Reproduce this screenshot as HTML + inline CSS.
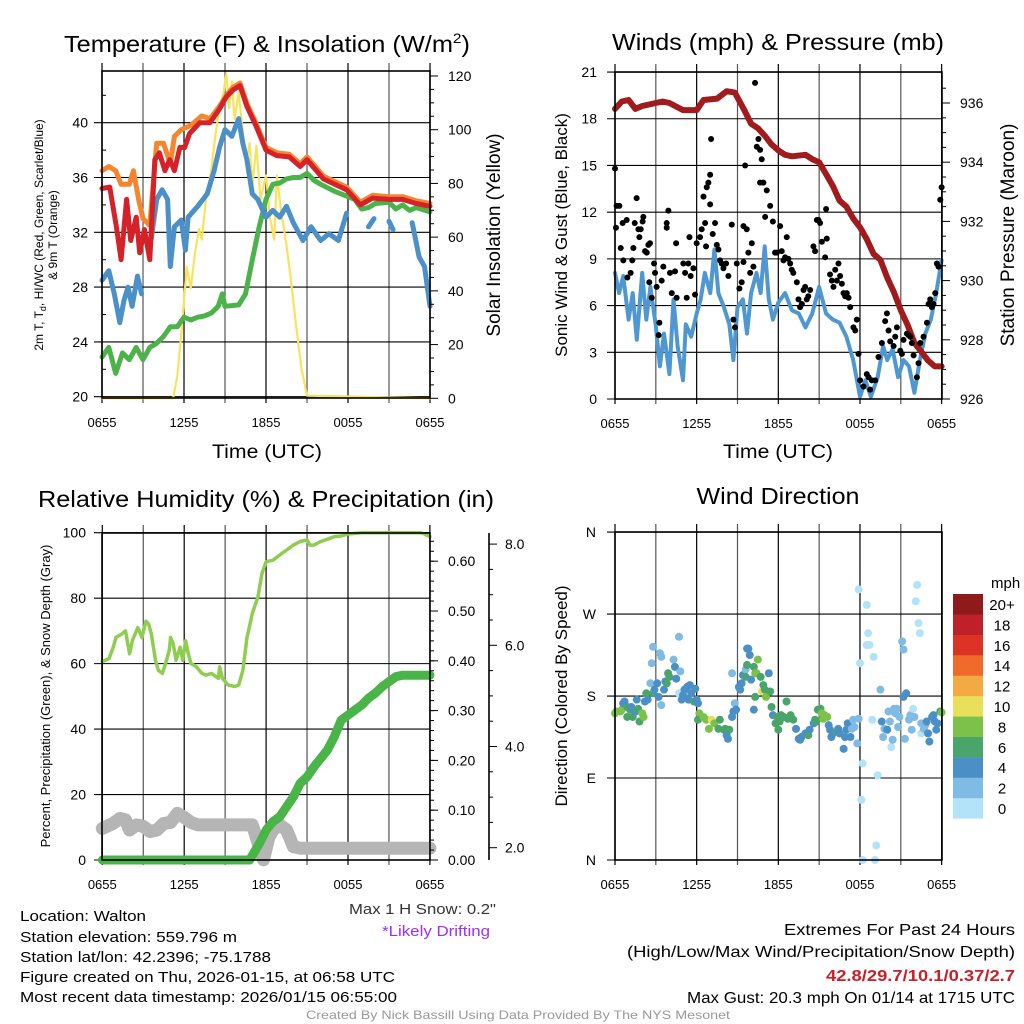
<!DOCTYPE html>
<html><head><meta charset="utf-8"><style>
html,body{margin:0;padding:0;background:#fff}
svg{display:block;font-family:"Liberation Sans",sans-serif}
</style></head><body>
<svg id="chart" width="1024" height="1024" viewBox="0 0 1024 1024" xmlns="http://www.w3.org/2000/svg">
<rect x="0" y="0" width="1024" height="1024" fill="#fff"/>
<g id="grids"></g>
<g id="series"></g>
<g id="axes"></g>
<g id="labels" font-size="14" fill="#000">
<text x="64" y="52" font-size="23" textLength="406" lengthAdjust="spacingAndGlyphs">Temperature (F) &amp; Insolation (W/m<tspan font-size="14" dy="-9">2</tspan><tspan dy="9">)</tspan></text>
<text x="778" y="50" font-size="23" text-anchor="middle" textLength="332" lengthAdjust="spacingAndGlyphs">Winds (mph) &amp; Pressure (mb)</text>
<text x="266" y="507" font-size="23" text-anchor="middle" textLength="456" lengthAdjust="spacingAndGlyphs">Relative Humidity (%) &amp; Precipitation (in)</text>
<text x="778" y="504" font-size="23" text-anchor="middle" textLength="163" lengthAdjust="spacingAndGlyphs">Wind Direction</text>
<text x="267" y="458" font-size="19" text-anchor="middle" textLength="110" lengthAdjust="spacingAndGlyphs">Time (UTC)</text>
<text x="778" y="458" font-size="19" text-anchor="middle" textLength="110" lengthAdjust="spacingAndGlyphs">Time (UTC)</text>
<text transform="translate(43,235) rotate(-90)" font-size="12" text-anchor="middle">2m T, T<tspan font-size="9" dy="3">d</tspan><tspan dy="-3">, HI/WC (Red, Green, Scarlet/Blue)</tspan></text>
<text transform="translate(57,235) rotate(-90)" font-size="12" text-anchor="middle">&amp; 9m T (Orange)</text>
<text transform="translate(500,235) rotate(-90)" font-size="19" text-anchor="middle">Solar Insolation (Yellow)</text>
<text transform="translate(567,235) rotate(-90)" font-size="17" text-anchor="middle">Sonic Wind &amp; Gust (Blue, Black)</text>
<text transform="translate(1014,235) rotate(-90)" font-size="19" text-anchor="middle">Station Pressure (Maroon)</text>
<text transform="translate(50,696) rotate(-90)" font-size="13" text-anchor="middle">Percent, Precipitation (Green), &amp; Snow Depth (Gray)</text>
<text transform="translate(567,696) rotate(-90)" font-size="17" text-anchor="middle">Direction (Colored By Speed)</text>
<text x="991" y="588" font-size="15">mph</text>
<text x="496" y="914" font-size="15" fill="#333" text-anchor="end" textLength="147" lengthAdjust="spacingAndGlyphs">Max 1 H Snow: 0.2"</text>
<text x="490" y="936" font-size="15" fill="#a02ff0" text-anchor="end" textLength="108" lengthAdjust="spacingAndGlyphs">*Likely Drifting</text>
<text x="20" y="921" font-size="15" textLength="126" lengthAdjust="spacingAndGlyphs">Location: Walton</text>
<text x="20" y="942" font-size="15" textLength="217" lengthAdjust="spacingAndGlyphs">Station elevation: 559.796 m</text>
<text x="20" y="962" font-size="15" textLength="251" lengthAdjust="spacingAndGlyphs">Station lat/lon: 42.2396; -75.1788</text>
<text x="20" y="982" font-size="15" textLength="375" lengthAdjust="spacingAndGlyphs">Figure created on Thu, 2026-01-15, at 06:58 UTC</text>
<text x="20" y="1002" font-size="15" textLength="377" lengthAdjust="spacingAndGlyphs">Most recent data timestamp: 2026/01/15 06:55:00</text>
<text x="1015" y="935" font-size="16" text-anchor="end" textLength="231" lengthAdjust="spacingAndGlyphs">Extremes For Past 24 Hours</text>
<text x="1015" y="957" font-size="16" text-anchor="end" textLength="388" lengthAdjust="spacingAndGlyphs">(High/Low/Max Wind/Precipitation/Snow Depth)</text>
<text x="1015" y="981" font-size="16" font-weight="bold" fill="#c8202a" text-anchor="end" textLength="189" lengthAdjust="spacingAndGlyphs">42.8/29.7/10.1/0.37/2.7</text>
<text x="1015" y="1003" font-size="16" text-anchor="end" textLength="328" lengthAdjust="spacingAndGlyphs">Max Gust: 20.3 mph On 01/14 at 1715 UTC</text>
<text x="518" y="1019" font-size="12" fill="#999" text-anchor="middle" textLength="424" lengthAdjust="spacingAndGlyphs">Created By Nick Bassill Using Data Provided By The NYS Mesonet</text>
</g>
</svg>
<script>
// ---------- data ----------
const xTickLabels = ["0655","1255","1855","0055","0655"];
const tempTicks = [20,24,28,32,36,40];
const solarTicks = [0,20,40,60,80,100,120];
const windTicks = [0,3,6,9,12,15,18,21];
const pressTicks = [926,928,930,932,934,936];
const rhTicks = [0,20,40,60,80,100];
const precipTicks = [0,0.1,0.2,0.3,0.4,0.5,0.6];
const snowTicks = [2,4,6,8];
const dirTicks = [0,90,180,270,360];
const dirLabels = ["N","E","S","W","N"];
const speedBins = ["0","2","4","6","8","10","12","14","16","18","20+"];
const speedColors = ["#b3e3f8","#7fbbe4","#4a8fc6","#4aa56b","#7cc24a","#e8e05a","#f5a945","#f06a2a","#dd3326","#c0202a","#8f1a1a"];

const redT = [0,0.56,1.05,1.4,1.8,2.1,2.5,2.76,3.1,3.5,3.86,4.2,4.6,4.95,5.3,5.7,6.05,6.4,7.15,7.9,8.6,9.1,9.6,10.1,10.6,11.3,12,12.8,13.7,14.5,15,16.2,17.9,18.9,19.8,21,22,23,24];
const redV = [35.2,35.3,32.4,30,34.4,31.4,33.1,30.5,32.2,30,37.3,37.8,36.5,37.3,36.5,38.2,38.2,39.2,40,40,41,41.9,42.4,42.7,41.2,39.7,38,37.6,37.5,36.8,37.3,35.9,35.1,34,34.5,34.4,34.4,34.1,33.9];
const orangeT = [0,0.5,1,1.4,2,2.3,2.7,3,3.5,3.7,4,4.5,5,5.3,5.8,6.5,7.3,7.9,8.6,9.1,9.6,10.1,10.6,11.3,12,12.8,13.7,14.5,15,16.2,17.9,18.9,19.8,21,22,23,24];
const orangeV = [36.5,36.8,36.5,35.5,35.5,36.5,34.3,33,32.5,35,38.5,38.5,37,39,39.5,39.8,40.5,40.3,41.2,42,42.6,42.9,41.4,39.9,38.2,37.8,37.7,37,37.5,36.1,35.3,34.2,34.7,34.6,34.6,34.3,34.1];
const hiT = [0,0.5,0.9,1.3,1.6,1.9,2.2,2.6,2.9,3.3,3.6,4,4.4,4.8,5,5.3,5.8,6.1,6.3,7,7.7,8.2,8.6,9,9.5,10,10.3,10.6,11,11.4,12,12.5,13,13.5,14,14.7,15.3,16,16.6,17.3,17.9,18.2,19.5,19.9,20.1,21,21.3,21.6,22.7,23.2,23.6,24];
const hiV = [28.5,29.2,27.5,25.4,27,28,26.6,28.8,27.5,null,31.5,34.4,35.1,34.4,29.5,32.4,32.9,30.7,33.1,33.9,34.8,36.5,38.2,39.5,39,40.3,38.5,37.3,34.8,34.4,33.1,33.6,33.1,33.9,32.7,31.4,32.4,31.4,31.9,31.4,33.4,null,32.4,33,null,32.8,32.2,null,32.7,30.2,29.5,26.6];
const dewT = [0,0.5,1,1.5,2,2.5,3,3.5,4,4.5,5,5.5,6,6.5,7,7.5,8,8.5,8.8,9,10,10.5,11,11.5,12,12.5,13,13.5,14,14.5,15,15.5,16,17,18,18.5,19,19.5,20,21,21.5,22,22.5,23,24];
const dewV = [22.9,23.6,21.7,23.2,22.7,23.6,22.7,23.6,23.9,24.4,25.1,25.1,25.8,25.6,25.8,25.9,26.1,26.6,27.5,26.6,26.7,27.5,30,32.4,34.4,35.5,35.6,35.9,36,36,36.3,35.8,35.5,35,34.6,34.4,33.7,33.8,34.1,34.2,33.7,34,33.6,33.8,33.5];
const solarT = [0,5.2,5.5,5.8,6.2,6.5,6.8,7.1,7.3,7.6,8,8.3,8.6,8.9,9.1,9.3,9.5,9.7,10,10.3,10.6,10.8,11,11.3,11.6,12,12.3,12.6,12.8,13.1,13.5,13.8,14.2,14.6,15,24];
const solarV = [0,0,8,24,49,41,54,63,59,74,85,98,108,114,121,108,118,104,114,99,89,95,79,94,74,83,67,59,83,70,57,45,27,11,1,0];

const pressT = [0,0.5,1,1.5,2,3,3.5,4,5,6,6.5,7.5,8.2,8.8,9.5,10,10.5,11,11.5,12,12.5,13,14,14.5,15,15.5,16,16.5,17,17.5,18,18.5,19,19.5,20,20.5,21,21.5,22,22.5,23,23.5,24];
const pressV = [935.8,936.05,936.1,935.8,935.9,936,936.05,936,935.76,935.76,936.1,936.15,936.4,936.35,935.76,935.3,935.15,934.9,934.6,934.4,934.25,934.2,934.25,934.1,934,933.6,933.2,932.7,932.5,932.1,931.8,931.4,930.9,930.7,930.1,929.6,929,928.5,927.9,927.6,927.3,927.1,927.1];
const windT = [0,0.3,0.6,1,1.3,1.6,2,2.3,2.6,3,3.3,3.6,4,4.3,4.6,5,5.2,5.6,6,6.3,6.6,7,7.3,7.6,8,8.4,8.7,9,9.4,9.7,10,10.4,10.7,11,11.3,11.6,12,12.5,13,13.5,14,14.5,15,15.5,16,16.5,17,17.5,18,18.4,18.8,19.3,19.7,20,20.4,20.8,21.2,21.6,22,22.4,22.8,23.2,23.6,24];
const windV = [8.1,6.8,7.9,5.1,6.8,3.8,8.1,5.1,7.2,4.7,2.1,4.2,1.6,6.4,3.4,1.2,4.8,4,5.5,6.4,8.1,6.8,9.6,6.8,5.9,4.8,2.5,5.9,6.4,4.2,6.8,8.1,6.8,9.8,6.4,5.1,6.2,6.8,5.7,5.5,4.6,5.5,7.2,5.5,5.1,4.9,4,2.5,0.15,1.2,0.15,1.4,3.4,2.5,3.2,1.4,2.5,2.1,0.4,2.5,4.2,5.1,6.8,8.9];
const gustT = [0,0.07,0.12,0.32,0.42,0.61,0.56,0.86,0.91,1.15,1.27,1.35,1.45,1.59,1.72,1.79,1.89,2.03,2.08,2.21,2.33,2.45,2.57,2.52,2.7,2.87,2.94,3.06,3.26,3.21,3.43,3.55,3.8,3.92,3.8,4.04,4.17,4.41,4.49,4.53,5.02,5.15,5.27,5.39,5.47,5.56,5.76,5.88,6,6.25,6.37,6.5,6.62,6.69,6.74,6.86,6.99,6.99,7.06,7.18,7.35,7.48,7.6,7.72,7.84,7.97,8.16,8.33,8.58,8.7,8.82,8.95,9.14,9.31,9.44,9.56,9.44,9.68,9.8,9.93,10.05,10.17,10.29,10.42,10.54,10.66,10.78,10.66,10.9,11.15,11.03,11.4,11.6,11.76,11.89,12.13,12.25,12.38,12.5,12.62,12.74,12.87,12.99,13.1,13.36,13.48,13.6,13.73,13.85,13.97,14.09,14.2,14.34,14.58,14.7,14.83,14.95,15.07,15.2,15.44,15.56,15.51,15.8,15.93,16.05,16.18,16.3,16.42,16.54,16.67,16.79,16.91,17.03,17.16,17.28,17.52,17.65,17.77,17.89,18.01,18.26,18.5,18.63,18.75,18.87,19.12,19.36,19.61,19.85,19.98,20.1,20.22,20.47,20.59,20.71,20.96,21.08,21.2,21.45,21.57,21.69,21.81,21.94,22.18,22.3,22.43,22.67,22.92,23.04,23.16,23.28,23.4,23.53,23.65,23.77,23.9,24];
const gustV = [14.8,11,12.4,12.4,9.7,8.9,11.3,11.5,7.8,8.1,8.9,9.7,11.3,12.9,10.9,10.4,10.9,11.4,11.7,9.5,9.4,9.9,10,7.5,6.5,8.7,8.1,7.2,4.9,4.1,7.6,8.5,11,12.1,11.3,8.1,6.8,8.2,10,6.5,8.7,8.1,6.5,8.7,10.4,7.9,8.4,6.7,10,10.4,10.9,13,11.3,9.8,13.6,13.9,14.4,12.5,16.7,10.6,11.3,9.9,9.6,8.9,8.7,8.4,8.7,7.9,11.2,5.1,4.6,8.7,7.1,7.5,8.8,15,11.1,10.9,9.4,8.1,10,8.5,20.3,16.2,16.7,16,15.4,13.9,13.9,13.4,11.7,12.4,11.4,9.4,9.4,11.1,9.5,8.9,9.1,10.4,9,8.7,8.3,8.1,7.5,6.4,5.9,6.1,7,7.2,6.4,6.6,7,9.8,9.5,11.5,11.5,11.3,10.1,9.1,10.3,12.2,8,7.6,7.2,8.3,7.6,8.7,7.9,7.4,6.8,6.6,6.8,6.5,5.9,4.6,4.4,5.1,2.9,1.2,0.8,1.6,1.4,0.6,1.2,1.2,2.7,3.6,5,5.5,4.4,3.7,3.4,4,4.6,3.1,2.9,3.8,4.2,4.1,4,3.6,2.8,1.4,2.3,3.6,4,4.9,6.1,6.4,5.9,6.1,6.8,8.7,8.5,12.8,13.6];

const rhT = [0,0.5,0.8,1,1.4,1.7,2,2.2,2.6,2.9,3.2,3.4,3.6,3.9,4.1,4.4,4.7,4.9,5,5.2,5.4,5.7,5.9,6.1,6.3,6.5,6.9,7.3,7.6,8,8.5,8.6,8.8,9.2,9.7,10,10.3,10.6,11,11.4,11.7,12,12.5,13,13.5,14,14.5,15,15.2,15.5,16,16.5,17,17.5,18,19,20,23.3,23.5,24];
const rhV = [60.6,61.6,65,68,69,70,63,67,71,68,73,72,69,61,58,57,61,64,68,66,61,65,61,67,63,60,59,57,56.5,57,55.5,59,55.5,53.5,53,53.5,58,68,75.4,80.4,87.6,91.1,91.6,93.2,94.7,96.2,97.3,97.8,96.2,96.2,97.3,98,98.8,99,99.6,100,100,100,99.8,98.8];
const precipT = [0,10.8,11.5,12,12.5,13,13.5,14,14.5,15,15.5,16,16.5,17,17.5,18,18.5,19,19.5,20,20.5,21,21.5,22,24];
const precipV = [0,0,0.033,0.06,0.077,0.087,0.107,0.127,0.154,0.167,0.187,0.204,0.221,0.248,0.281,0.291,0.301,0.311,0.325,0.335,0.348,0.358,0.368,0.371,0.371];
const snowT = [0,0.8,1.3,1.7,2,2.5,3,3.5,4,4.5,5,5.5,6,6.5,7,8,11,11.4,11.8,12.2,12.5,13,13.5,14,14.5,15,24];
const snowV = [2.38,2.48,2.58,2.55,2.35,2.45,2.42,2.32,2.35,2.48,2.5,2.68,2.6,2.5,2.45,2.45,2.45,2.1,1.76,2.2,2.35,2.45,2.35,2.02,1.99,1.99,1.99];

const dirT = [0,0.1,0.4,0.5,0.6,0.7,0.9,0.9,1.1,1.2,1.3,1.5,1.6,1.7,1.8,2,2.1,2.2,2.3,2.4,2.6,2.7,2.8,2.8,2.9,3.1,3.2,3.3,3.4,3.4,3.6,3.7,3.8,3.9,4,4.3,4.4,4.5,4.7,4.8,4.7,4.9,5,5.1,5.3,5.4,5.5,5.6,5.8,5.9,6,6.1,6.2,6.1,6.5,6.7,6.9,7.1,7.3,7.6,7.7,8,8.1,8.2,8.3,8.4,8.6,8.7,8.6,8.8,8.9,9.1,9.2,9.3,9.4,9.6,9.7,9.8,9.9,9.7,9.6,10,10.2,10.3,10.4,10.5,10.7,10.8,10.9,11,11.1,11.3,11.4,10.2,10.3,11.5,11.6,11.8,11.9,12,12.1,12.2,12.4,12.6,12.7,12.9,13.1,13.3,13.5,13.6,13.7,14,14.2,14.3,14.6,14.7,14.8,14.9,15.1,15.2,15.3,15.4,15.6,15.7,15.8,15.9,16,16.3,16.4,16.5,16.8,16.9,17,17.1,17.3,17.4,17.5,17.6,17.8,17.9,17.9,18,18.1,18.2,18.2,18.5,18.6,18.5,18.7,18.9,19,19.1,19.2,19.3,19.5,19.6,19.7,19.8,20,20.1,20.2,20.3,20.4,20.5,20.6,20.7,20.8,20.9,21.1,21.2,21.2,21.3,21.4,21.6,21.7,21.8,21.9,22,22.1,22.2,22.3,22.4,22.5,22.5,22.7,22.8,22.9,23,23.1,23.3,23.4,23.5,23.6,23.7,23.9,24];
const dirV = [161,163,163,165,172,174,168,157,165,168,157,163,176,166,152,161,157,174,183,176,194,216,234,183,187,194,179,227,223,170,187,196,194,205,201,220,212,199,245,207,183,176,181,187,190,176,192,183,174,188,176,172,161,154,157,154,144,154,150,144,154,143,144,137,133,143,157,163,205,172,165,190,187,194,203,209,232,232,225,214,201,198,212,205,205,220,201,185,192,187,179,205,185,165,179,168,159,150,157,143,152,159,157,174,155,159,154,144,133,132,135,139,137,143,150,154,152,165,166,161,155,159,157,148,143,135,139,141,144,139,122,135,143,150,135,144,154,146,128,155,297,216,66,106,0,280,249,236,236,154,223,0,16,93,187,152,135,144,143,163,152,124,132,166,161,166,146,157,240,231,179,133,183,154,159,143,166,157,284,302,260,249,150,139,144,148,152,139,130,157,159,152,143,150,163,162];
const dirSpd = [9,9,9,9,5,5,7,7,7,5,7,5,5,7,7,9,9,5,7,5,3,3,3,7,5,5,5,3,3,3,5,5,7,7,7,3,5,5,3,3,1,5,5,5,5,5,5,5,7,5,5,5,9,7,9,9,9,11,9,7,7,7,7,5,5,7,5,5,3,3,5,5,5,5,5,3,5,5,5,7,7,5,7,9,9,9,7,11,7,7,9,5,7,5,7,7,5,7,7,7,7,7,7,7,7,7,7,5,5,5,5,5,7,5,5,7,7,7,7,9,9,9,9,5,5,5,5,7,5,5,5,5,5,5,5,3,3,3,3,3,1,1,1,1,1,1,1,1,1,1,1,1,1,1,3,5,3,3,5,3,3,1,3,3,3,3,3,3,3,3,5,3,5,3,3,3,1,3,1,1,1,1,3,1,3,3,5,5,5,5,5,5,5,5,7,9];

// ---------- axis functions ----------
const x1 = t => 102 + t*13.667, yT = v => 396.7 - (v-20)*13.7, yS = v => 398.3 - v*2.686;
const x2 = t => 615 + t*13.61, yW = v => 399 - v*15.57, yP = v => 399 - (v-926)*29.6;
const x3 = t => 102.3 + t*13.65, yRH = v => 860 - v*3.273, yPr = v => 860 - v*498, ySn = v => 847.7 - (v-2)*50.6;
const x4 = t => 615 + t*13.61, yD = v => 860 - v*0.911;

const NS = "http://www.w3.org/2000/svg";
const G = document.getElementById("grids"), S = document.getElementById("series"), A = document.getElementById("axes");
function mk(tag, attrs, parent){ const e=document.createElementNS(NS,tag); for(const k in attrs) e.setAttribute(k,attrs[k]); parent.appendChild(e); return e; }
function pathFrom(ts, vs, fx, fy){ let d="", pen=false; for(let i=0;i<ts.length;i++){ if(vs[i]===null){pen=false;continue;} d+=(pen?"L":"M")+fx(ts[i]).toFixed(1)+","+fy(vs[i]).toFixed(1); pen=true;} return d; }
function line(ts, vs, fx, fy, color, w, name){
  const p = mk("path",{d:pathFrom(ts,vs,fx,fy),fill:"none",stroke:color,"stroke-width":w,"stroke-linejoin":"round","stroke-linecap":"round"},S);
  
  
}
function text(x,y,s,anchor,size,name){ const e=mk("text",{x:x,y:y,"text-anchor":anchor,"font-size":size},A); e.textContent=s;
  
  
}

// panel frames & grids
function panel(L,T,R,B,fx,hvals,fy,name){
  for(let h=0;h<=24;h+=3){ const x=fx(h); mk("line",{x1:x,y1:T-8,x2:x,y2:B+5,stroke:(h%6?"#555":"#000"),"stroke-width":1.2},G); }
  hvals.forEach(v=>{ const y=fy(v); mk("line",{x1:L-8,y1:y,x2:R,y2:y,stroke:"#000","stroke-width":1.1},G); });
  const r=mk("rect",{x:L,y:T,width:R-L,height:B-T,fill:"none",stroke:"#000","stroke-width":1.6},A);
  
  
  xTickLabels.forEach((s,i)=>text(fx(i*6),B+29,s,"middle",13,"x-tick-label"));
}
panel(102,71,430,398,x1,tempTicks,yT,"temp-plot-area");
panel(615,72,942,399,x2,windTicks,yW,"wind-plot-area");
panel(102,533,430,860,x3,rhTicks,yRH,"rh-plot-area");
panel(615,532,942,860,x4,dirTicks,yD,"direction-plot-area");

// y tick labels
tempTicks.forEach(v=>text(88,yT(v)+5,String(v),"end",14,"temp-tick-label"));
for(let v=22;v<44;v+=4) mk("line",{x1:102,y1:yT(v),x2:106,y2:yT(v),stroke:"#000"},A);
solarTicks.forEach(v=>{ mk("line",{x1:430,y1:yS(v),x2:438,y2:yS(v),stroke:"#000"},A); text(448,yS(v)+5,String(v),"start",14,"solar-tick-label"); });
for(let v=5;v<122;v+=5) if(v%20) mk("line",{x1:430,y1:yS(v),x2:434,y2:yS(v),stroke:"#000"},A);
windTicks.forEach(v=>text(597,yW(v)+5,String(v),"end",14,"wind-tick-label"));
pressTicks.forEach(v=>{ mk("line",{x1:942,y1:yP(v),x2:950,y2:yP(v),stroke:"#000"},A); text(960,yP(v)+5,String(v),"start",14,"pressure-tick-label"); });
for(let v=926.5;v<937;v+=0.5) if(v%2) mk("line",{x1:942,y1:yP(v),x2:946,y2:yP(v),stroke:"#000"},A);
rhTicks.forEach(v=>text(86,yRH(v)+5,String(v),"end",14,"rh-tick-label"));
precipTicks.forEach(v=>{ mk("line",{x1:430,y1:yPr(v),x2:438,y2:yPr(v),stroke:"#000"},A); text(448,yPr(v)+5,v.toFixed(2),"start",14,"precip-tick-label"); });
for(let v=0.02;v<0.65;v+=0.02) mk("line",{x1:430,y1:yPr(v),x2:434,y2:yPr(v),stroke:"#000"},A);
mk("line",{x1:489,y1:533,x2:489,y2:860,stroke:"#000","stroke-width":1.6},A);
snowTicks.forEach(v=>{ mk("line",{x1:489,y1:ySn(v),x2:497,y2:ySn(v),stroke:"#000"},A); text(505,ySn(v)+5,v.toFixed(1),"start",14,"snow-tick-label"); });
for(let v=2.5;v<8.2;v+=0.5) if(v%2) mk("line",{x1:489,y1:ySn(v),x2:493,y2:ySn(v),stroke:"#000"},A);
dirTicks.forEach((v,i)=>text(596,yD(v)+5,dirLabels[i],"end",14,"direction-tick-label"));

// series panel 1
line(solarT,solarV,x1,yS,"#f8e45c",2.2,"solar-line");
line(dewT,dewV,x1,yT,"#4cb34a",5,"dewpoint-line");
line(hiT,hiV,x1,yT,"#4b90c8",5,"heat-index-wind-chill-line");
line(orangeT,orangeV,x1,yT,"#f5852f",5,"temp-9m-line");
line(redT,redV,x1,yT,"#d52228",5,"temp-2m-line");
// panel 2
line(windT,windV,x2,yW,"#4f97d0",4,"sonic-wind-line");
line(pressT,pressV,x2,yP,"#a11a1c",6,"pressure-line");
gustT.forEach((t,i)=>{ const c=mk("circle",{cx:x2(t),cy:yW(gustV[i]),r:3,fill:"#000"},S);
  
   });
// panel 3
line(snowT,snowV,x3,ySn,"#b5b5b5",13,"snow-depth-line");
line(precipT,precipV,x3,yPr,"#49b548",9,"precip-line");
line(rhT,rhV,x3,yRH,"#8fcd52",3.5,"rh-line");
// panel 4
dirT.forEach((t,i)=>{ const b=Math.min(10,Math.floor(dirSpd[i]/2)); const c=mk("circle",{cx:x4(t),cy:yD(dirV[i]),r:4,fill:speedColors[b]},S);
  
   });
// colorbar
speedBins.forEach((s,i)=>{ const y=594+(10-i)*20.4;
  const r=mk("rect",{x:953,y:y,width:30,height:20.6,fill:speedColors[i]},A);
  
  
  text(1002,y+16,s,"middle",15,"colorbar-label"); });
</script>
</body></html>
